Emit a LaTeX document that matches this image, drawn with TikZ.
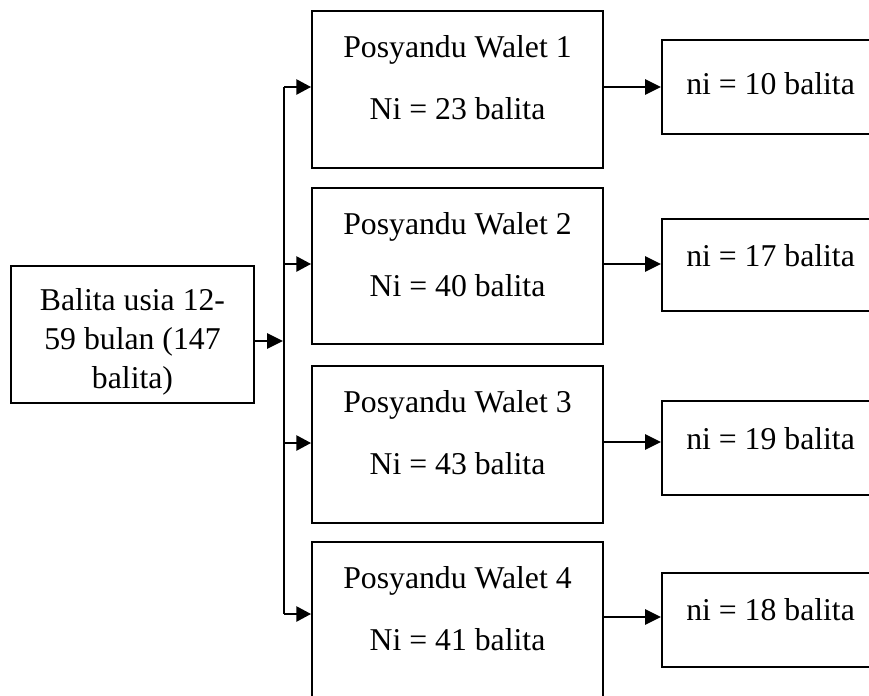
\documentclass[tikz,border=0pt]{standalone}
\usepackage{fontspec}
\setmainfont{Liberation Serif}
\usetikzlibrary{arrows.meta,fit}
\begin{document}
\begin{tikzpicture}[x=0.75pt,y=-0.75pt,
  box/.style={draw,line width=1.5pt,inner sep=0pt},
  txt/.style={font=\fontsize{23.8}{29.25}\selectfont,inner sep=0pt},
  thinline/.style={line width=0.8pt},
  branch/.style={line width=1.1pt,-{Triangle[length=11pt,width=11.5pt]}},
  conn/.style={line width=1.5pt,-{Triangle[length=12pt,width=11.5pt]}}]
\useasboundingbox (0,0) rectangle (869,696);
\clip (0,0) rectangle (869,696);

% left box
\node[box, fit={(11,266)(254,403)}] (lb) {};
\node[txt, align=center] (lbt) at (132.5,342) {Balita usia 12-\\59 bulan (147\\balita)};

% posyandu boxes
\node[box, fit={(312,11)(603,168)}] (p1) {};
\node[box, fit={(312,188)(603,344)}] (p2) {};
\node[box, fit={(312,366)(603,523)}] (p3) {};
\node[box, fit={(312,542)(603,720)}] (p4) {};

\node[txt, anchor=base] (p1a) at (457.5,57) {Posyandu Walet 1};
\node[txt, anchor=base] (p1b) at (457.5,119) {Ni = 23 balita};
\node[txt, anchor=base] (p2a) at (457.5,234) {Posyandu Walet 2};
\node[txt, anchor=base] (p2b) at (457.5,296) {Ni = 40 balita};
\node[txt, anchor=base] (p3a) at (457.5,412) {Posyandu Walet 3};
\node[txt, anchor=base] (p3b) at (457.5,474) {Ni = 43 balita};
\node[txt, anchor=base] (p4a) at (457.5,588) {Posyandu Walet 4};
\node[txt, anchor=base] (p4b) at (457.5,650) {Ni = 41 balita};

% right boxes (cut off at the right edge)
\node[box, fit={(662,40)(900,134)}] (r1) {};
\node[box, fit={(662,219)(900,311)}] (r2) {};
\node[box, fit={(662,401)(900,495)}] (r3) {};
\node[box, fit={(662,573)(900,667)}] (r4) {};

\node[txt, anchor=base west] (r1t) at (686,94) {ni = 10 balita};
\node[txt, anchor=base west] (r2t) at (686,266) {ni = 17 balita};
\node[txt, anchor=base west] (r3t) at (686,449) {ni = 19 balita};
\node[txt, anchor=base west] (r4t) at (686,620) {ni = 18 balita};

% junction coordinates
\coordinate (j0) at (283,341);
\coordinate (b1) at (284,87);
\coordinate (b2) at (284,264);
\coordinate (b3) at (284,443);
\coordinate (b4) at (284,614);
\coordinate (a1) at (630,87);
\coordinate (a2) at (630,264);
\coordinate (a3) at (630,442);
\coordinate (a4) at (630,617);

% connectors
\draw[conn] (lb.east |- j0) -- (j0);
\draw[thinline] (b1) -- (b4);
\draw[branch] (b1) -- (p1.west |- b1);
\draw[branch] (b2) -- (p2.west |- b2);
\draw[branch] (b3) -- (p3.west |- b3);
\draw[branch] (b4) -- (p4.west |- b4);

\draw[conn] (p1.east |- a1) -- (r1.west |- a1);
\draw[conn] (p2.east |- a2) -- (r2.west |- a2);
\draw[conn] (p3.east |- a3) -- (r3.west |- a3);
\draw[conn] (p4.east |- a4) -- (r4.west |- a4);
\end{tikzpicture}
\end{document}
